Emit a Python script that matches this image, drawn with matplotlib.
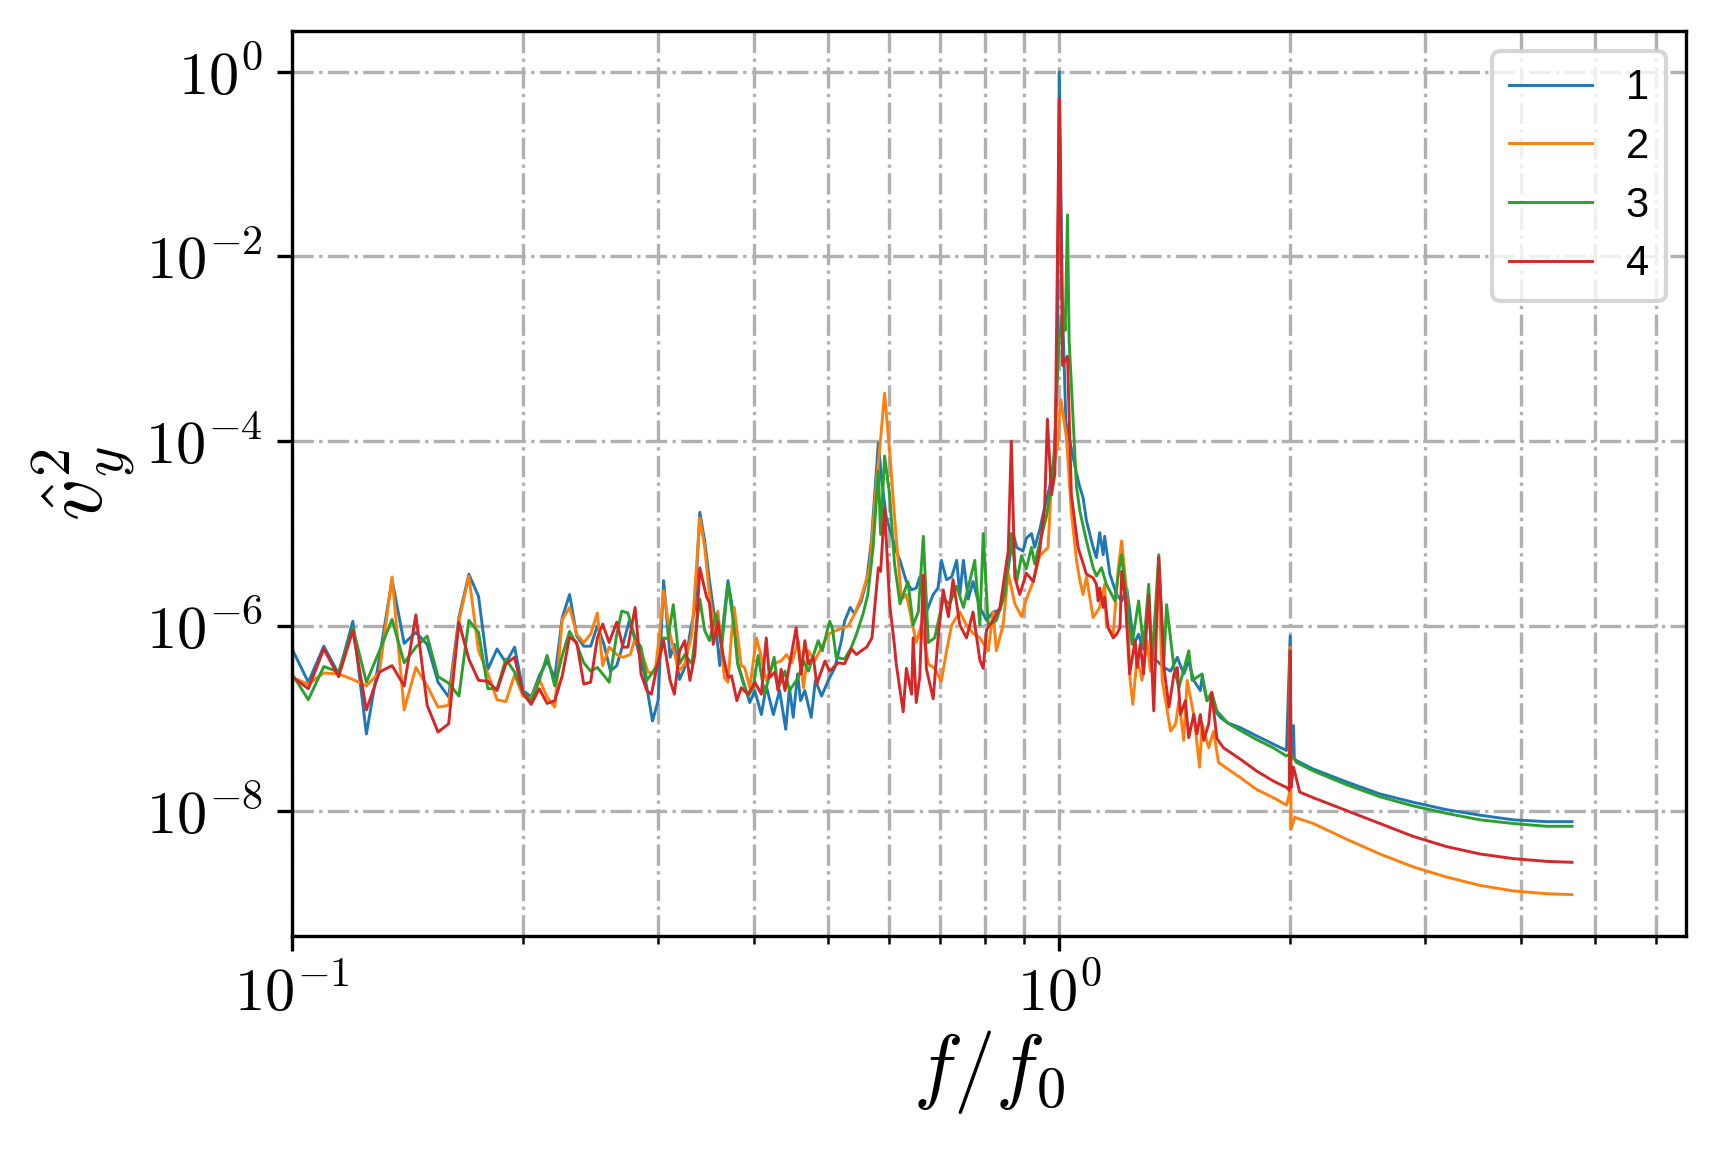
import numpy as np
import matplotlib
matplotlib.use("Agg")
import matplotlib.pyplot as plt
from matplotlib.ticker import LogLocator, NullLocator, FuncFormatter, NullFormatter

plt.rcParams['mathtext.fontset'] = 'cm'

# ---- data: f/f0 and log10 of spectral amplitude ----
f1 = [0.100, 0.105, 0.110, 0.115, 0.120, 0.125, 0.130, 0.135, 0.140, 0.145, 0.150, 0.155, 0.160, 0.165, 0.170,
      0.175, 0.180, 0.185, 0.190, 0.195, 0.200, 0.205, 0.210, 0.215, 0.220, 0.225, 0.230, 0.235, 0.240, 0.245,
      0.250, 0.255, 0.260, 0.265, 0.270, 0.275, 0.282, 0.288, 0.292, 0.295, 0.300, 0.305, 0.311, 0.315, 0.320,
      0.325, 0.330, 0.335, 0.340, 0.345, 0.350, 0.356, 0.361, 0.365, 0.370, 0.376, 0.381, 0.387, 0.395, 0.401,
      0.409, 0.415, 0.424, 0.432, 0.440, 0.445, 0.450, 0.456, 0.460, 0.466, 0.475, 0.481, 0.490, 0.500, 0.510,
      0.520, 0.525, 0.534, 0.541, 0.552, 0.561, 0.569, 0.581, 0.587, 0.595, 0.613, 0.620, 0.632, 0.642, 0.651,
      0.658, 0.671, 0.685, 0.695, 0.702, 0.713, 0.724, 0.735, 0.742, 0.750, 0.761, 0.772, 0.788, 0.804, 0.820,
      0.837, 0.853, 0.871, 0.880, 0.897, 0.906, 0.920, 0.929, 0.943, 0.957, 0.972, 0.987, 0.995, 1.000, 1.010,
      1.020, 1.053, 1.064, 1.074, 1.085, 1.107, 1.118, 1.129, 1.141, 1.146, 1.164, 1.176, 1.188, 1.206, 1.225,
      1.237, 1.250, 1.269, 1.282, 1.308, 1.341, 1.369, 1.397, 1.425, 1.453, 1.475, 1.497, 1.527, 1.535, 1.558,
      1.582, 1.597, 1.621, 1.657, 1.720, 1.807, 1.901, 1.978, 2.000, 2.005, 2.020, 2.025, 2.039, 2.143, 2.369,
      2.618, 2.894, 3.198, 3.535, 3.907, 4.318, 4.660]
lg1 = [-6.25, -6.61, -6.22, -6.52, -5.95, -7.17, -6.34, -5.50, -6.19, -6.07, -6.20, -6.61, -6.77, -5.91, -5.44,
       -5.68, -6.47, -6.25, -6.40, -6.23, -6.70, -6.77, -6.54, -6.38, -6.56, -5.91, -5.66, -6.11, -6.22, -6.22,
       -6.00, -6.20, -6.49, -6.43, -6.20, -5.95, -6.23, -6.52, -6.81, -7.03, -6.81, -5.51, -6.34, -6.20, -6.58,
       -6.45, -6.09, -5.80, -4.77, -5.08, -5.51, -5.95, -6.43, -5.95, -5.51, -5.87, -6.41, -6.59, -6.83, -6.70,
       -6.96, -6.65, -6.96, -6.70, -7.12, -6.67, -6.99, -6.52, -6.81, -6.70, -6.99, -6.59, -6.76, -6.59, -6.45,
       -6.16, -5.95, -5.80, -5.87, -5.73, -5.51, -5.08, -4.02, -4.43, -4.82, -5.19, -5.29, -5.52, -5.61, -5.59,
       -5.47, -5.85, -5.66, -5.59, -5.29, -5.50, -5.47, -5.29, -5.66, -5.29, -5.71, -5.52, -5.80, -5.94, -5.85,
       -5.83, -5.52, -5.00, -5.15, -5.19, -5.05, -5.00, -5.15, -4.96, -4.72, -4.49, -4.11, -3.00, 0.00, -2.59,
       -3.79, -4.35, -4.50, -4.61, -4.86, -5.15, -5.26, -4.99, -5.23, -5.03, -5.44, -5.55, -5.66, -5.73, -5.60,
       -5.87, -6.20, -6.09, -6.23, -6.31, -6.38, -6.45, -6.49, -6.34, -6.52, -6.38, -6.59, -6.70, -6.56, -6.81,
       -6.74, -6.92, -6.99, -7.05, -7.10, -7.19, -7.28, -7.35, -6.11, -7.38, -7.08, -7.44, -7.46, -7.55, -7.69,
       -7.82, -7.91, -7.99, -8.05, -8.10, -8.12, -8.12]

f2 = [0.100, 0.105, 0.110, 0.115, 0.120, 0.125, 0.130, 0.135, 0.140, 0.145, 0.150, 0.155, 0.160, 0.165, 0.170,
      0.175, 0.180, 0.185, 0.190, 0.195, 0.200, 0.205, 0.210, 0.215, 0.220, 0.225, 0.230, 0.235, 0.240, 0.245,
      0.250, 0.254, 0.259, 0.265, 0.270, 0.276, 0.280, 0.284, 0.291, 0.297, 0.301, 0.305, 0.311, 0.319, 0.325,
      0.332, 0.340, 0.345, 0.350, 0.356, 0.359, 0.366, 0.370, 0.374, 0.377, 0.385, 0.389, 0.395, 0.403, 0.409,
      0.415, 0.424, 0.434, 0.441, 0.448, 0.457, 0.464, 0.471, 0.480, 0.490, 0.500, 0.515, 0.531, 0.541, 0.552,
      0.566, 0.578, 0.584, 0.592, 0.601, 0.613, 0.623, 0.632, 0.642, 0.651, 0.661, 0.675, 0.688, 0.702, 0.713,
      0.724, 0.742, 0.757, 0.772, 0.788, 0.808, 0.820, 0.828, 0.845, 0.858, 0.875, 0.893, 0.906, 0.925, 0.943,
      0.967, 0.977, 0.996, 1.000, 1.005, 1.022, 1.037, 1.053, 1.064, 1.074, 1.085, 1.107, 1.129, 1.146, 1.152,
      1.176, 1.194, 1.206, 1.225, 1.237, 1.247, 1.263, 1.282, 1.301, 1.315, 1.348, 1.362, 1.397, 1.418, 1.432,
      1.453, 1.468, 1.497, 1.524, 1.535, 1.566, 1.589, 1.613, 1.720, 1.807, 1.901, 1.978, 1.995, 2.000, 2.005,
      2.028, 2.039, 2.143, 2.369, 2.618, 2.894, 3.198, 3.535, 3.907, 4.318, 4.660]
lg2 = [-6.56, -6.63, -6.51, -6.52, -6.58, -6.65, -6.50, -5.47, -6.91, -6.45, -6.65, -6.88, -6.86, -5.95, -5.46,
       -6.27, -6.52, -6.80, -6.82, -6.53, -6.76, -6.79, -6.58, -6.77, -6.88, -5.93, -5.80, -6.09, -6.18, -6.09,
       -5.86, -6.43, -6.23, -6.31, -6.34, -6.31, -6.13, -6.23, -6.50, -6.52, -6.13, -5.62, -6.09, -6.49, -6.41,
       -6.09, -4.83, -5.15, -5.66, -6.09, -5.84, -6.56, -6.61, -6.09, -5.80, -6.43, -6.45, -6.67, -6.13, -6.34,
       -6.59, -6.41, -6.38, -6.31, -6.40, -6.16, -6.67, -6.27, -6.38, -6.23, -6.09, -6.04, -6.00, -5.87, -5.69,
       -5.37, -4.43, -4.04, -3.48, -4.11, -5.05, -5.71, -5.66, -5.94, -6.18, -5.99, -6.41, -6.46, -6.60, -6.27,
       -5.99, -5.85, -5.99, -6.08, -6.13, -6.27, -5.85, -6.27, -5.99, -5.43, -5.76, -5.90, -5.71, -5.52, -5.24,
       -5.15, -4.44, -4.02, -3.74, -3.55, -3.97, -4.77, -5.29, -5.51, -5.66, -5.47, -5.91, -5.80, -5.55, -6.00,
       -6.09, -5.37, -5.08, -5.66, -6.59, -6.85, -6.34, -6.59, -6.16, -6.49, -5.51, -6.59, -7.14, -7.06, -6.81,
       -7.24, -6.59, -6.96, -7.53, -7.06, -7.32, -7.14, -7.48, -7.64, -7.77, -7.86, -7.94, -7.82, -6.23, -8.20,
       -8.07, -8.08, -8.14, -8.31, -8.47, -8.61, -8.72, -8.81, -8.87, -8.90, -8.91]

f3 = [0.100, 0.105, 0.110, 0.115, 0.120, 0.125, 0.130, 0.135, 0.140, 0.145, 0.150, 0.155, 0.160, 0.165, 0.170,
      0.175, 0.180, 0.185, 0.190, 0.195, 0.200, 0.205, 0.210, 0.215, 0.220, 0.225, 0.230, 0.235, 0.240, 0.245,
      0.250, 0.254, 0.259, 0.265, 0.269, 0.274, 0.280, 0.285, 0.290, 0.294, 0.300, 0.305, 0.309, 0.314, 0.320,
      0.325, 0.332, 0.340, 0.345, 0.350, 0.357, 0.363, 0.370, 0.376, 0.381, 0.387, 0.393, 0.399, 0.405, 0.413,
      0.425, 0.430, 0.439, 0.445, 0.457, 0.464, 0.471, 0.485, 0.491, 0.502, 0.506, 0.512, 0.525, 0.536, 0.544,
      0.555, 0.563, 0.572, 0.581, 0.585, 0.592, 0.601, 0.610, 0.620, 0.635, 0.645, 0.655, 0.665, 0.675, 0.688,
      0.706, 0.720, 0.735, 0.750, 0.776, 0.788, 0.796, 0.808, 0.828, 0.849, 0.866, 0.880, 0.893, 0.906, 0.920,
      0.929, 0.943, 0.962, 0.982, 0.996, 1.000, 1.012, 1.018, 1.025, 1.030, 1.053, 1.064, 1.085, 1.107, 1.118,
      1.135, 1.152, 1.170, 1.182, 1.194, 1.206, 1.225, 1.244, 1.269, 1.288, 1.308, 1.321, 1.348, 1.369, 1.380,
      1.411, 1.432, 1.475, 1.490, 1.535, 1.558, 1.580, 1.605, 1.657, 1.720, 1.807, 1.901, 1.978, 2.000, 2.039,
      2.143, 2.369, 2.618, 2.894, 3.198, 3.535, 3.907, 4.318, 4.660]
lg3 = [-6.52, -6.80, -6.44, -6.50, -6.02, -6.61, -6.27, -5.93, -6.40, -6.23, -6.11, -6.55, -6.62, -6.76, -5.94,
       -6.07, -6.68, -6.68, -6.36, -6.50, -6.72, -6.82, -6.59, -6.32, -6.65, -6.32, -6.06, -6.20, -6.40, -6.49,
       -6.45, -6.52, -6.61, -6.09, -5.84, -5.86, -6.13, -6.23, -6.59, -6.52, -6.41, -6.13, -6.14, -5.77, -6.41,
       -6.31, -6.41, -5.71, -6.05, -6.16, -5.87, -6.23, -5.55, -5.95, -6.41, -6.61, -6.76, -6.67, -6.32, -6.74,
       -6.34, -6.68, -6.49, -6.70, -6.56, -6.38, -6.49, -6.16, -6.27, -5.95, -6.02, -6.34, -6.36, -6.23, -6.09,
       -5.87, -5.66, -5.15, -4.32, -5.01, -4.16, -4.58, -5.33, -5.76, -5.52, -5.99, -5.85, -5.03, -6.18, -6.13,
       -5.71, -5.76, -5.57, -5.80, -5.29, -5.99, -5.00, -5.99, -5.94, -5.66, -5.00, -5.52, -5.24, -5.38, -5.15,
       -5.33, -5.10, -4.82, -4.35, -3.18, -2.89, -2.57, -2.80, -1.55, -2.90, -4.49, -4.76, -5.08, -5.37, -5.46,
       -5.37, -5.55, -5.66, -5.73, -5.44, -5.23, -5.73, -6.20, -5.73, -6.23, -5.55, -6.41, -5.23, -6.38, -5.77,
       -6.45, -6.67, -6.27, -6.59, -6.52, -6.81, -6.72, -6.92, -7.05, -7.13, -7.23, -7.32, -7.41, -7.38, -7.48,
       -7.57, -7.72, -7.85, -7.95, -8.03, -8.10, -8.14, -8.17, -8.17]

f4 = [0.100, 0.105, 0.110, 0.115, 0.120, 0.125, 0.130, 0.135, 0.140, 0.145, 0.150, 0.155, 0.160, 0.165, 0.170,
      0.175, 0.180, 0.185, 0.190, 0.195, 0.200, 0.205, 0.210, 0.215, 0.220, 0.225, 0.230, 0.235, 0.240, 0.245,
      0.250, 0.254, 0.259, 0.265, 0.270, 0.274, 0.280, 0.285, 0.290, 0.294, 0.298, 0.305, 0.311, 0.315, 0.320,
      0.325, 0.330, 0.335, 0.340, 0.347, 0.350, 0.354, 0.359, 0.365, 0.370, 0.374, 0.380, 0.385, 0.393, 0.401,
      0.409, 0.415, 0.419, 0.426, 0.430, 0.434, 0.439, 0.454, 0.461, 0.466, 0.471, 0.478, 0.483, 0.495, 0.502,
      0.515, 0.525, 0.536, 0.544, 0.552, 0.561, 0.570, 0.581, 0.585, 0.592, 0.601, 0.610, 0.613, 0.620, 0.626,
      0.632, 0.642, 0.645, 0.651, 0.658, 0.665, 0.671, 0.685, 0.695, 0.706, 0.717, 0.727, 0.742, 0.757, 0.772,
      0.788, 0.796, 0.804, 0.820, 0.837, 0.858, 0.866, 0.875, 0.888, 0.906, 0.925, 0.943, 0.957, 0.965, 0.977,
      0.987, 1.000, 1.010, 1.025, 1.037, 1.058, 1.085, 1.107, 1.118, 1.124, 1.129, 1.141, 1.146, 1.158, 1.176,
      1.188, 1.200, 1.206, 1.219, 1.235, 1.256, 1.263, 1.275, 1.288, 1.308, 1.328, 1.348, 1.369, 1.390, 1.411,
      1.425, 1.439, 1.460, 1.475, 1.497, 1.512, 1.527, 1.543, 1.566, 1.580, 1.605, 1.637, 1.720, 1.807, 1.901,
      1.978, 1.995, 2.000, 2.005, 2.020, 2.058, 2.143, 2.369, 2.618, 2.894, 3.198, 3.535, 3.907, 4.318, 4.660]
lg4 = [-6.55, -6.68, -6.25, -6.55, -6.05, -6.91, -6.50, -6.43, -6.65, -5.88, -6.86, -7.15, -7.06, -5.96, -6.36,
       -6.59, -6.60, -6.70, -6.41, -6.34, -6.73, -6.85, -6.68, -6.84, -6.81, -6.54, -6.12, -6.18, -6.63, -6.61,
       -6.13, -5.98, -6.18, -5.96, -6.23, -6.23, -5.80, -6.52, -6.70, -6.74, -6.50, -6.16, -6.59, -6.74, -6.27,
       -6.16, -6.59, -6.31, -5.37, -5.69, -5.75, -6.20, -5.95, -6.34, -6.56, -6.54, -6.81, -6.67, -6.74, -6.61,
       -6.74, -6.13, -6.56, -6.50, -6.70, -6.47, -6.70, -6.02, -6.52, -6.16, -6.41, -6.34, -6.63, -6.38, -6.49,
       -6.40, -6.41, -6.25, -6.31, -6.27, -6.23, -6.13, -5.37, -5.41, -4.72, -5.76, -6.22, -6.41, -6.69, -6.93,
       -6.46, -6.74, -6.13, -6.83, -6.55, -5.45, -6.46, -6.79, -6.13, -5.61, -5.90, -5.50, -5.99, -6.13, -5.85,
       -6.37, -6.46, -6.04, -5.94, -5.80, -5.19, -4.00, -5.47, -5.66, -5.43, -5.52, -5.19, -4.72, -3.76, -4.58,
       -4.35, -0.29, -3.18, -3.08, -4.58, -5.15, -5.44, -5.48, -5.55, -5.73, -5.59, -5.80, -5.69, -6.02, -6.13,
       -6.09, -6.02, -5.41, -5.69, -6.52, -6.16, -6.45, -6.20, -6.52, -5.66, -6.92, -5.26, -6.45, -6.88, -6.52,
       -6.45, -6.96, -6.81, -7.21, -6.96, -7.17, -6.96, -7.24, -7.06, -6.72, -7.22, -7.32, -7.44, -7.57, -7.68,
       -7.75, -7.78, -6.27, -7.75, -7.53, -7.80, -7.86, -8.00, -8.14, -8.28, -8.39, -8.47, -8.52, -8.55, -8.56]

labels = ['1', '2', '3', '4']
colors = ['#1f77b4', '#ff7f0e', '#2ca02c', '#d62728']

fig = plt.figure(figsize=(1716 / 300, 1152 / 300), dpi=300)
ax = fig.add_axes([0.1702, 0.1877, 0.9828 - 0.1702, 0.9734 - 0.1877])

for f, lg, lab, c in zip([f1, f2, f3, f4], [lg1, lg2, lg3, lg4], labels, colors):
    ax.plot(f, 10.0 ** np.asarray(lg), color=c, lw=0.7, label=lab)

ax.set_xscale('log')
ax.set_yscale('log')
ax.set_xlim(0.1, 6.57)

fmt = FuncFormatter(lambda v, p: r'$10^{%d}$' % int(round(np.log10(v))))
ax.yaxis.set_major_locator(LogLocator(base=100))
ax.yaxis.set_minor_locator(NullLocator())
ax.yaxis.set_major_formatter(fmt)
ax.xaxis.set_major_formatter(fmt)
ax.xaxis.set_minor_formatter(NullFormatter())

ax.grid(True, which='major', axis='both', linestyle='-.', color='#b0b0b0', lw=0.8)
ax.grid(True, which='minor', axis='x', linestyle='-.', color='#b0b0b0', lw=0.8)
ax.tick_params(axis='both', which='major', labelsize=14.5)

ax.set_xlabel(r'$f/f_0$', fontsize=20, labelpad=1)
ax.set_ylabel(r'$\hat{v}_y^2$', fontsize=20, labelpad=2)

ax.legend(loc='upper right', prop={'family': 'Liberation Sans', 'size': 10},
          labelspacing=0.45, handlelength=2.0)

fig.savefig('out.png', dpi=300)
